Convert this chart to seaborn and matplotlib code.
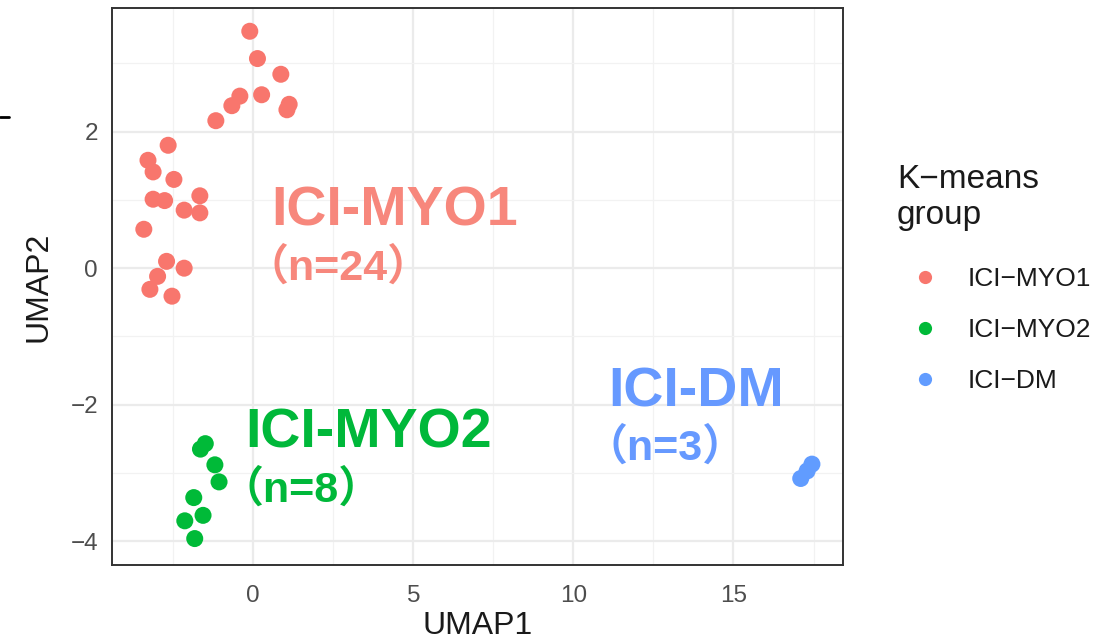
import numpy as np
import pandas as pd
import matplotlib
matplotlib.use("Agg")
import matplotlib.pyplot as plt
from matplotlib.lines import Line2D
from matplotlib.ticker import MultipleLocator
import seaborn as sns

# ------------------------------------------------------------------
# Data
# ------------------------------------------------------------------
myo1_x = [-0.11, 0.13, 0.86, -0.42, -0.67, 0.26, 1.05, 1.12, -1.17, -2.66,
          -3.29, -3.13, -2.48, -1.67, -3.13, -2.77, -2.16, -1.67, -3.42, -2.71,
          -2.16, -2.99, -3.23, -2.54]
myo1_y = [3.47, 3.07, 2.84, 2.52, 2.38, 2.54, 2.32, 2.40, 2.16, 1.80,
          1.58, 1.41, 1.30, 1.06, 1.01, 0.99, 0.85, 0.81, 0.57, 0.10,
          0.00, -0.12, -0.31, -0.41]
myo2_x = [-1.65, -1.50, -1.20, -1.07, -1.86, -1.57, -2.14, -1.83]
myo2_y = [-2.65, -2.57, -2.88, -3.13, -3.36, -3.62, -3.70, -3.96]
dm_x = [17.10, 17.30, 17.45]
dm_y = [-3.08, -2.97, -2.87]

groups = ["ICI-MYO1", "ICI-MYO2", "ICI-DM"]
counts = [24, 8, 3]
point_colors = ["#F8766D", "#00BA38", "#619CFF"]
text_colors = ["#F7877C", "#00B83A", "#6699FF"]

df = pd.concat([
    pd.DataFrame({"UMAP1": myo1_x, "UMAP2": myo1_y, "group": groups[0]}),
    pd.DataFrame({"UMAP1": myo2_x, "UMAP2": myo2_y, "group": groups[1]}),
    pd.DataFrame({"UMAP1": dm_x, "UMAP2": dm_y, "group": groups[2]}),
], ignore_index=True)

# ------------------------------------------------------------------
# Figure (ggplot theme_bw look)
# ------------------------------------------------------------------
sns.set_style("white")
plt.rcParams["font.family"] = ["Liberation Sans", "DejaVu Sans"]

W, H = 1107, 643
fig = plt.figure(figsize=(W / 100, H / 100), dpi=100)
ax = fig.add_axes([0.101, 0.121, 0.6605, 0.8665])

sns.scatterplot(data=df, x="UMAP1", y="UMAP2", hue="group", hue_order=groups,
                palette=point_colors, s=150, linewidth=0, ax=ax, legend=False,
                zorder=3)

ax.set_xlim(-4.42, 18.42)
ax.set_ylim(-4.35, 3.81)
ax.xaxis.set_major_locator(MultipleLocator(5))
ax.yaxis.set_major_locator(MultipleLocator(2))
ax.xaxis.set_minor_locator(MultipleLocator(2.5))
ax.yaxis.set_minor_locator(MultipleLocator(1))
ax.grid(which="major", color="#EBEBEB", linewidth=1.6, zorder=0)
ax.grid(which="minor", color="#F2F2F2", linewidth=0.9, zorder=0)
ax.set_axisbelow(True)
for sp in ax.spines.values():
    sp.set_color("#333333")
    sp.set_linewidth(1.4)
ax.tick_params(axis="both", which="major", length=5, width=1.3, color="#333333",
               labelsize=17.5, labelcolor="#4D4D4D")
ax.tick_params(axis="x", which="major", pad=9)
ax.tick_params(axis="y", which="major", pad=5)
ax.tick_params(axis="both", which="minor", length=0)
ax.set_xlabel("UMAP1", fontsize=23, color="#1A1A1A", labelpad=3)
ax.set_ylabel("UMAP2", fontsize=23, color="#1A1A1A", labelpad=12)

# cluster annotations
mixed = ["Liberation Sans", "Noto Sans CJK JP"]
name_pos = [(0.57, 0.62), (-0.25, -2.63), (11.08, -2.03)]
n_pos = [(-0.23, -0.17), (-1.02, -3.42), (10.33, -2.81)]
for g, n, c, (nx, ny), (cx, cy) in zip(groups, counts, text_colors, name_pos, n_pos):
    ax.text(nx, ny, g, color=c, fontsize=40, fontweight="bold", family=mixed,
            ha="left", va="baseline", zorder=4)
    ax.text(cx, cy, f"（n={n}）", color=c, fontsize=31, fontweight="bold",
            family=mixed, ha="left", va="baseline", zorder=4)

# legend title (two lines, placed by hand like ggplot's guide title)
fig.text(897 / W, 1 - 188 / H, "K\u2212means", fontsize=24, color="#1A1A1A",
         ha="left", va="baseline")
fig.text(897 / W, 1 - 224 / H, "group", fontsize=24, color="#1A1A1A",
         ha="left", va="baseline")

# legend keys
handles = [Line2D([], [], marker="o", linestyle="", markersize=9.5,
                  markerfacecolor=c, markeredgewidth=0) for c in point_colors]
labels = [g.replace("-", "\u2212") for g in groups]
leg = fig.legend(handles, labels, loc="upper left",
                 bbox_to_anchor=(895 / W, 1 - 267 / H), frameon=False,
                 fontsize=19, labelspacing=1.02, handletextpad=0.5,
                 handlelength=2.24, borderaxespad=0, borderpad=0)
for t in leg.get_texts():
    t.set_color("#1A1A1A")

# small stray tick mark at the top-left of the original image
fig.add_artist(Line2D([0.0, 0.008], [0.818, 0.818], color="black", linewidth=2,
                      transform=fig.transFigure))

fig.savefig("out.png", dpi=100)
